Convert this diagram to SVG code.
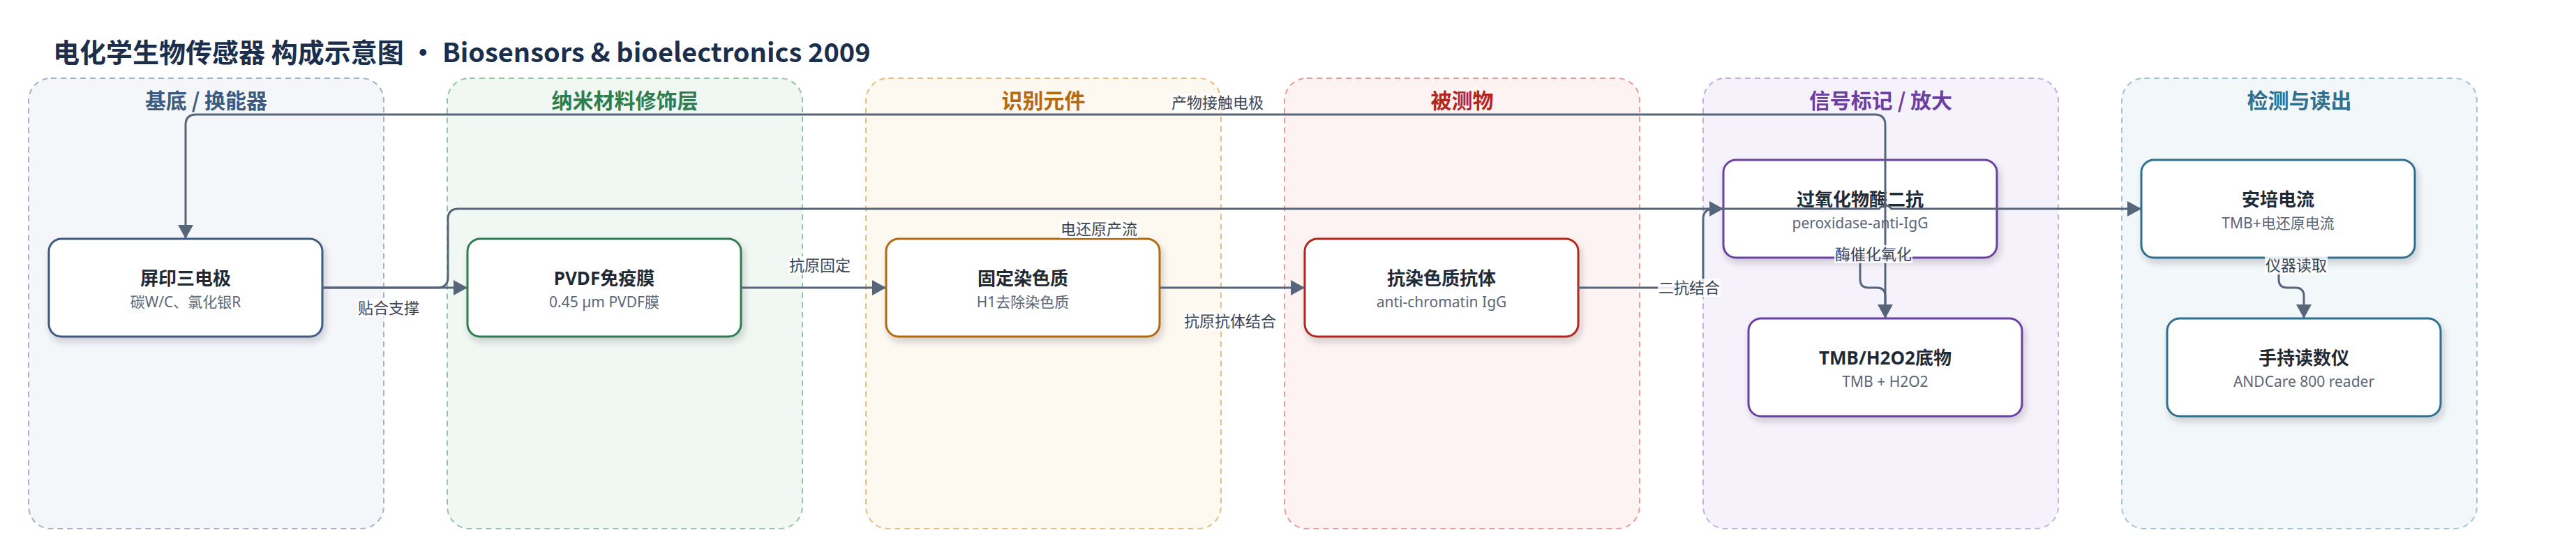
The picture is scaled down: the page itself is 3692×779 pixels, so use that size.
<svg xmlns="http://www.w3.org/2000/svg" width="3692" height="779" viewBox="0 0 3692 779">
<defs>
<style>
.cl{stroke-width:2;stroke-dasharray:8 6}
.ct{font-family:'Noto Sans CJK SC',sans-serif;font-weight:700;font-size:30px;text-anchor:middle}
.nd{fill:#ffffff;stroke-width:3;filter:url(#sh)}
.nt{font-family:'Noto Sans','Noto Sans CJK SC',sans-serif;font-weight:700;font-size:26px;fill:#1f2a37;text-anchor:middle}
.ns{font-family:'Noto Sans','Noto Sans CJK SC',sans-serif;font-size:21px;fill:#5b6677;text-anchor:middle}
.e{fill:none;stroke:#56657a;stroke-width:3}
.ea{marker-end:url(#ah)}
.lb{fill:#ffffff;fill-opacity:0.85}
.lt{font-family:'Noto Sans CJK SC',sans-serif;font-size:22px;fill:#3b4454;text-anchor:middle}
</style>
<filter id="sh" x="-10%" y="-15%" width="125%" height="145%">
<feDropShadow dx="3" dy="6" stdDeviation="5" flood-color="#1f2a37" flood-opacity="0.2"/>
</filter>
<marker id="ah" markerUnits="userSpaceOnUse" markerWidth="20" markerHeight="22" refX="19" refY="11" orient="auto">
<path d="M0,0 L20,11 L0,22 Z" fill="#56657a"/>
</marker>
</defs>
<rect width="3692" height="779" fill="#ffffff"/>
<text x="76" y="89" font-family="'Noto Sans CJK SC',sans-serif" font-weight="700" font-size="38" fill="#1b2f4d">电化学生物传感器 构成示意图 • Biosensors &amp; bioelectronics 2009</text>

<g id="cluster-substrate">
<rect class="cl" x="41" y="112" width="509" height="645" rx="32" fill="#f4f6fa" stroke="#a3b2c6"/>
<text class="ct" x="295.5" y="155" fill="#3d5a80">基底 / 换能器</text>
</g>
<g id="cluster-nano">
<rect class="cl" x="641" y="112" width="509" height="645" rx="32" fill="#f1f8f3" stroke="#93c6a5"/>
<text class="ct" x="895.5" y="155" fill="#2e7d4f">纳米材料修饰层</text>
</g>
<g id="cluster-recog">
<rect class="cl" x="1241" y="112" width="509" height="645" rx="32" fill="#fdf8f0" stroke="#e7bd80"/>
<text class="ct" x="1495.5" y="155" fill="#b5690f">识别元件</text>
</g>
<g id="cluster-analyte">
<rect class="cl" x="1841" y="112" width="509" height="645" rx="32" fill="#fdf3f2" stroke="#e79c9c"/>
<text class="ct" x="2095.5" y="155" fill="#b3261e">被测物</text>
</g>
<g id="cluster-signal">
<rect class="cl" x="2441" y="112" width="509" height="645" rx="32" fill="#f6f2fb" stroke="#c5aee2"/>
<text class="ct" x="2695.5" y="155" fill="#6b3fa0">信号标记 / 放大</text>
</g>
<g id="cluster-detect">
<rect class="cl" x="3041" y="112" width="509" height="645" rx="32" fill="#f2f7f9" stroke="#a0c5d3"/>
<text class="ct" x="3295.5" y="155" fill="#2f6f8f">检测与读出</text>
</g>

<g id="node-electrode">
<rect class="nd" x="70" y="342" width="392" height="140" rx="18" stroke="#3d5a80"/>
<text class="nt" x="266" y="408">屏印三电极</text>
<text class="ns" x="266" y="440">碳W/C、氯化银R</text>
</g>
<g id="node-pvdf">
<rect class="nd" x="670" y="342" width="392" height="140" rx="18" stroke="#2e7d4f"/>
<text class="nt" x="866" y="408">PVDF免疫膜</text>
<text class="ns" x="866" y="440">0.45 µm PVDF膜</text>
</g>
<g id="node-chromatin">
<rect class="nd" x="1270" y="342" width="392" height="140" rx="18" stroke="#b5690f"/>
<text class="nt" x="1466" y="408">固定染色质</text>
<text class="ns" x="1466" y="440">H1去除染色质</text>
</g>
<g id="node-antibody">
<rect class="nd" x="1870" y="342" width="392" height="140" rx="18" stroke="#b3261e"/>
<text class="nt" x="2066" y="408">抗染色质抗体</text>
<text class="ns" x="2066" y="440">anti-chromatin IgG</text>
</g>
<g id="node-hrp">
<rect class="nd" x="2470" y="229" width="392" height="140" rx="18" stroke="#6b3fa0"/>
<text class="nt" x="2666" y="295">过氧化物酶二抗</text>
<text class="ns" x="2666" y="327">peroxidase-anti-IgG</text>
</g>
<g id="node-tmb">
<rect class="nd" x="2506" y="456" width="392" height="140" rx="18" stroke="#6b3fa0"/>
<text class="nt" x="2702" y="522">TMB/H2O2底物</text>
<text class="ns" x="2702" y="554">TMB + H2O2</text>
</g>
<g id="node-amp">
<rect class="nd" x="3069" y="229" width="392" height="140" rx="18" stroke="#2f6f8f"/>
<text class="nt" x="3265" y="295">安培电流</text>
<text class="ns" x="3265" y="327">TMB+电还原电流</text>
</g>
<g id="node-reader">
<rect class="nd" x="3106" y="456" width="392" height="140" rx="18" stroke="#2f6f8f"/>
<text class="nt" x="3302" y="522">手持读数仪</text>
<text class="ns" x="3302" y="554">ANDCare 800 reader</text>
</g>

<g id="connectors">
<path class="e ea" d="M462,412 H669"/>
<path class="e ea" d="M1062,412 H1269"/>
<path class="e ea" d="M1662,412 H1869"/>
<path class="e ea" d="M2262,412 H2426 Q2441,412 2441,397 V314 Q2441,299 2456,299 H2469"/>
<path class="e ea" d="M2666,369 V400 Q2666,412 2678,412 H2690 Q2702,412 2702,424 V455"/>
<path class="e ea" d="M2702,456 V179 Q2702,164 2687,164 H281 Q266,164 266,179 V341"/>
<path class="e ea" d="M462,412 H627 Q642,412 642,397 V314 Q642,299 657,299 H2693 Q2702,289 2711,299 H3068"/>
<path class="e ea" d="M3266,369 V400 Q3266,412 3278,412 H3290 Q3302,412 3302,424 V455"/>
<g id="edge-labels">
<rect class="lb" x="512" y="428" width="90" height="26"/>
<text class="lt" x="557" y="449">贴合支撑</text>
<rect class="lb" x="1130" y="367" width="90" height="26"/>
<text class="lt" x="1175" y="388">抗原固定</text>
<rect class="lb" x="1696" y="447" width="134" height="26"/>
<text class="lt" x="1763" y="468">抗原抗体结合</text>
<rect class="lb" x="2376" y="399" width="90" height="26"/>
<text class="lt" x="2421" y="420">二抗结合</text>
<rect class="lb" x="2629" y="351" width="112" height="26"/>
<text class="lt" x="2685" y="372">酶催化氧化</text>
<rect class="lb" x="1678" y="134" width="134" height="26"/>
<text class="lt" x="1745" y="155">产物接触电极</text>
<rect class="lb" x="1519" y="315" width="112" height="26"/>
<text class="lt" x="1575" y="336">电还原产流</text>
<rect class="lb" x="3246" y="367" width="90" height="26"/>
<text class="lt" x="3291" y="388">仪器读取</text>
</g>
</g>
</svg>
